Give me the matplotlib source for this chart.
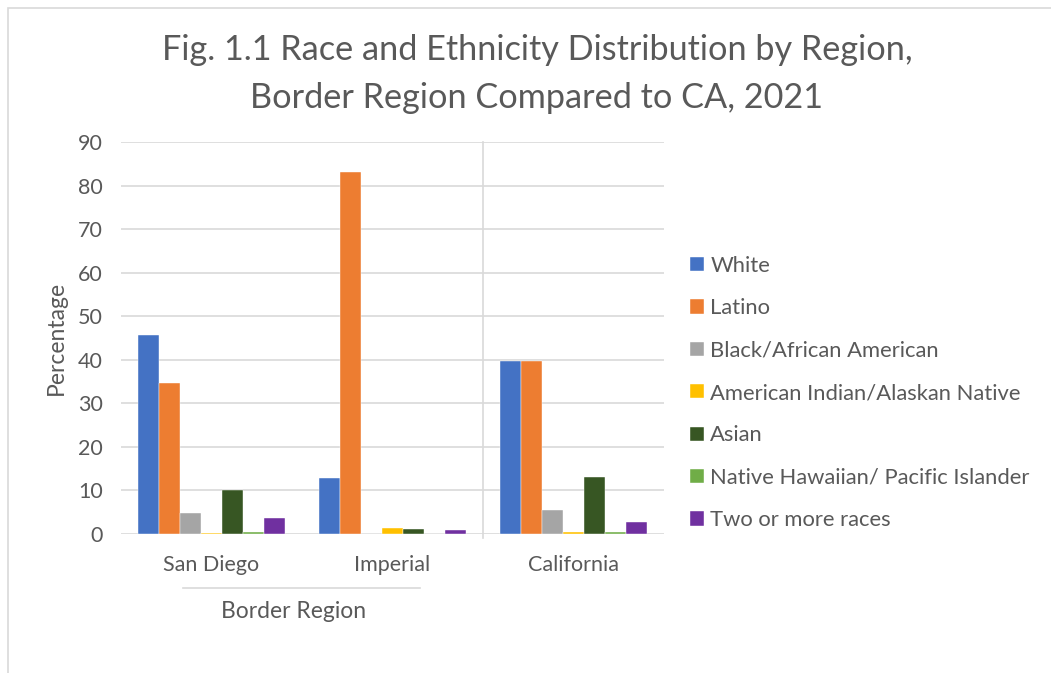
import numpy as np
import matplotlib.pyplot as plt
from matplotlib.lines import Line2D
from matplotlib.patches import Rectangle

regions = ['San Diego', 'Imperial', 'California']
group_label = 'Border Region'
races = ['White', 'Latino', 'Black/African American',
         'American Indian/Alaskan Native', 'Asian',
         'Native Hawaiian/ Pacific Islander', 'Two or more races']

white = [45.7, 12.8, 39.7]
latino = [34.6, 83.1, 39.7]
black = [4.8, 0.0, 5.4]
am_indian = [0.3, 1.3, 0.4]
asian = [10.1, 1.1, 13.2]
nhpi = [0.5, 0.0, 0.4]
two_more = [3.7, 0.85, 2.7]

series = [white, latino, black, am_indian, asian, nhpi, two_more]
colors = ['#4472C4', '#ED7D31', '#A5A5A5', '#FFC000', '#375623', '#70AD47', '#7030A0']

txt = '#595959'
font = 'Lato'
plt.rcParams['font.family'] = [font, 'DejaVu Sans']

W, H = 1051, 673
fig = plt.figure(figsize=(W / 100, H / 100), dpi=100)

# outer chart border
fig.patches.append(Rectangle((8 / W, -0.01), 1.02, 1 - 8 / H + 0.01, transform=fig.transFigure,
                             fill=False, edgecolor='#D9D9D9', linewidth=1.2))

ax = fig.add_axes([121 / W, 1 - 534 / H, 543 / W, 392 / H])

x = np.arange(len(regions))
bw = 0.116
for i, (vals, c) in enumerate(zip(series, colors)):
    ax.bar(x + (i - 3) * bw, vals, bw, color=c, label=races[i], zorder=3,
           edgecolor='white', linewidth=0.3)

ax.set_xlim(-0.5, 2.5)
ax.set_ylim(0, 90)
ax.set_yticks(range(0, 91, 10))
ax.yaxis.grid(True, color='#D9D9D9', linewidth=1.2, zorder=0)
ax.axvline(1.5, color='#D9D9D9', linewidth=1.2, zorder=1, ymin=-0.01, clip_on=False)
for s in ax.spines.values():
    s.set_visible(False)
ax.tick_params(axis='both', length=0, colors=txt, labelsize=15.5)
ax.tick_params(axis='y', pad=13)
ax.set_xticks(x)
ax.set_xticklabels(regions)
ax.tick_params(axis='x', pad=15)
ax.set_ylabel('Percentage', color=txt, fontsize=16.5, labelpad=8)

# group bracket for border region
fig.lines.append(Line2D([183 / W, 420 / W], [1 - 588 / H] * 2, transform=fig.transFigure,
                        color='#D9D9D9', linewidth=1.2))
fig.text(294 / W, 1 - 611 / H, group_label, ha='center', va='center', color=txt, fontsize=16.5)

fig.text(537 / W, 1 - 50 / H, 'Fig. 1.1 Race and Ethnicity Distribution by Region,',
         ha='center', va='center', color=txt, fontsize=24.7)
fig.text(537 / W, 1 - 98 / H, 'Border Region Compared to CA, 2021',
         ha='center', va='center', color=txt, fontsize=24.7)

ax.legend(loc='center left', bbox_to_anchor=(690 / W, 1 - 393 / H), bbox_transform=fig.transFigure,
          frameon=False, fontsize=15.8, labelcolor=txt, handlelength=0.62, handleheight=0.62,
          handletextpad=0.3, labelspacing=1.02, borderpad=0, borderaxespad=0)

fig.savefig('out.png', dpi=100)
